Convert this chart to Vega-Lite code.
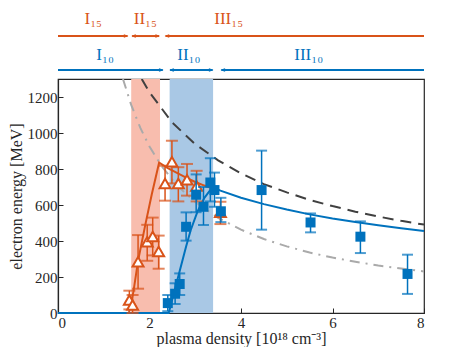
{
  "$schema": "https://vega.github.io/schema/vega-lite/v6.json",
  "padding": {"left": 7, "top": 0, "right": 0, "bottom": 0},
  "config": {
    "font": "Liberation Serif",
    "view": {"stroke": null},
    "axis": {"labelFont": "Liberation Serif", "titleFont": "Liberation Serif", "labelColor": "#262626", "titleColor": "#262626", "domainColor": "#262626", "tickColor": "#262626", "grid": false, "labelFontSize": 15, "titleFontSize": 16, "titleFontWeight": "normal", "labelOverlap": false}
  },
  "datasets": {
    "arrows": [
      {"grp": "15", "x": 0, "x2": 1.52, "lv": 0.538},
      {"grp": "15", "x": 1.62, "x2": 2.21, "lv": 0.538},
      {"grp": "15", "x": 2.35, "x2": 8, "lv": 0.538},
      {"grp": "10", "x": 0, "x2": 2.29, "lv": 0.103},
      {"grp": "10", "x": 2.45, "x2": 3.38, "lv": 0.103},
      {"grp": "10", "x": 3.57, "x2": 8, "lv": 0.103}
    ],
    "headsR": [
      {"grp": "15", "x": 1.54, "lv": 0.538},
      {"grp": "15", "x": 2.23, "lv": 0.538},
      {"grp": "10", "x": 2.31, "lv": 0.103},
      {"grp": "10", "x": 3.40, "lv": 0.103}
    ],
    "headsL": [
      {"grp": "15", "x": 1.60, "lv": 0.538},
      {"grp": "15", "x": 2.33, "lv": 0.538},
      {"grp": "10", "x": 2.43, "lv": 0.103},
      {"grp": "10", "x": 3.55, "lv": 0.103}
    ],
    "labels": [
      {"grp": "15", "x": 0.77, "lv": 0.76, "t": "I₁₅"},
      {"grp": "15", "x": 1.91, "lv": 0.76, "t": "II₁₅"},
      {"grp": "15", "x": 3.73, "lv": 0.76, "t": "III₁₅"},
      {"grp": "10", "x": 1.03, "lv": 0.3, "t": "I₁₀"},
      {"grp": "10", "x": 2.86, "lv": 0.3, "t": "II₁₀"},
      {"grp": "10", "x": 5.48, "lv": 0.3, "t": "III₁₀"}
    ],
    "bands": [
      {"grp": "15", "x": 1.6, "x2": 2.23},
      {"grp": "10", "x": 2.44, "x2": 3.39}
    ],
    "dashed": [
      {"x": 1.83, "y": 1300}, {"x": 2.0, "y": 1226}, {"x": 2.5, "y": 1057}, {"x": 3.0, "y": 938},
      {"x": 3.5, "y": 848}, {"x": 4.0, "y": 776}, {"x": 4.5, "y": 716}, {"x": 5.0, "y": 670},
      {"x": 5.5, "y": 628}, {"x": 6.0, "y": 594}, {"x": 6.5, "y": 563}, {"x": 7.0, "y": 536},
      {"x": 7.5, "y": 512}, {"x": 8.0, "y": 491}
    ],
    "dashdot": [
      {"x": 1.42, "y": 1300}, {"x": 1.6, "y": 1156}, {"x": 1.8, "y": 1028}, {"x": 2.0, "y": 925},
      {"x": 2.25, "y": 822}, {"x": 2.5, "y": 740}, {"x": 2.75, "y": 673}, {"x": 3.0, "y": 617},
      {"x": 3.5, "y": 529}, {"x": 4.0, "y": 463}, {"x": 4.5, "y": 411}, {"x": 5.0, "y": 370},
      {"x": 5.5, "y": 336}, {"x": 6.0, "y": 308}, {"x": 6.5, "y": 285}, {"x": 7.0, "y": 264},
      {"x": 7.5, "y": 247}, {"x": 8.0, "y": 231}
    ],
    "curves": [
      {"s": "15", "x": 0, "y": 0}, {"s": "15", "x": 1.55, "y": 0}, {"s": "15", "x": 1.65, "y": 120},
      {"s": "15", "x": 1.75, "y": 290}, {"s": "15", "x": 1.9, "y": 480}, {"s": "15", "x": 2.05, "y": 660},
      {"s": "15", "x": 2.21, "y": 835}, {"s": "15", "x": 2.4, "y": 805}, {"s": "15", "x": 2.6, "y": 778},
      {"s": "15", "x": 2.8, "y": 752}, {"s": "15", "x": 3.0, "y": 728}, {"s": "15", "x": 3.2, "y": 708},
      {"s": "15", "x": 3.4, "y": 690},
      {"s": "10", "x": 0, "y": 0}, {"s": "10", "x": 2.42, "y": 0}, {"s": "10", "x": 2.6, "y": 175},
      {"s": "10", "x": 2.8, "y": 370}, {"s": "10", "x": 2.9, "y": 460}, {"s": "10", "x": 3.05, "y": 565},
      {"s": "10", "x": 3.2, "y": 640}, {"s": "10", "x": 3.38, "y": 700}, {"s": "10", "x": 3.55, "y": 680},
      {"s": "10", "x": 4.0, "y": 640}, {"s": "10", "x": 4.5, "y": 605}, {"s": "10", "x": 5.0, "y": 575},
      {"s": "10", "x": 5.5, "y": 548}, {"s": "10", "x": 6.0, "y": 525}, {"s": "10", "x": 6.5, "y": 506},
      {"s": "10", "x": 7.0, "y": 488}, {"s": "10", "x": 7.5, "y": 471}, {"s": "10", "x": 8.0, "y": 455}
    ],
    "orange": [
      {"x": 1.56, "y": 72, "lo": 20, "hi": 124},
      {"x": 1.63, "y": 44, "lo": 0, "hi": 100},
      {"x": 1.75, "y": 285, "lo": 135, "hi": 433},
      {"x": 1.95, "y": 396, "lo": 290, "hi": 490},
      {"x": 2.07, "y": 425, "lo": 320, "hi": 530},
      {"x": 2.2, "y": 342, "lo": 246, "hi": 430},
      {"x": 2.34, "y": 720, "lo": 624, "hi": 818},
      {"x": 2.49, "y": 840, "lo": 720, "hi": 957},
      {"x": 2.63, "y": 720, "lo": 620, "hi": 810},
      {"x": 2.82, "y": 740, "lo": 652, "hi": 828},
      {"x": 3.03, "y": 705, "lo": 620, "hi": 790},
      {"x": 3.55, "y": 560, "lo": 494, "hi": 618}
    ],
    "blue": [
      {"x": 2.4, "y": 55, "lo": 10, "hi": 100},
      {"x": 2.56, "y": 107, "lo": 50, "hi": 165},
      {"x": 2.66, "y": 161, "lo": 100, "hi": 220},
      {"x": 2.8, "y": 479, "lo": 402, "hi": 559},
      {"x": 3.02, "y": 657, "lo": 560, "hi": 770},
      {"x": 3.18, "y": 590, "lo": 489, "hi": 700},
      {"x": 3.33, "y": 725, "lo": 620, "hi": 860},
      {"x": 3.42, "y": 683, "lo": 590, "hi": 780},
      {"x": 3.56, "y": 565, "lo": 505, "hi": 640},
      {"x": 4.45, "y": 683, "lo": 463, "hi": 902},
      {"x": 5.52, "y": 503, "lo": 448, "hi": 553},
      {"x": 6.61, "y": 424, "lo": 333, "hi": 509},
      {"x": 7.64, "y": 217, "lo": 106, "hi": 324}
    ]
  },
  "spacing": 0,
  "vconcat": [
    {
      "width": 366,
      "height": 78,
      "layer": [
        {
          "data": {"name": "arrows"},
          "mark": {"type": "rule", "strokeWidth": 2},
          "encoding": {
            "x": {"field": "x", "type": "quantitative", "scale": {"domain": [0, 8]}, "axis": null},
            "x2": {"field": "x2"},
            "y": {"field": "lv", "type": "quantitative", "scale": {"domain": [0, 1]}, "axis": null},
            "color": {"field": "grp", "type": "nominal", "scale": {"domain": ["15", "10"], "range": ["#D95319", "#0072BD"]}, "legend": null}
          }
        },
        {
          "data": {"name": "headsR"},
          "mark": {"type": "point", "shape": "M0,0 L-2,-0.8 L-1.4,0 L-2,0.8 Z", "filled": true, "size": 25, "opacity": 1},
          "encoding": {
            "x": {"field": "x", "type": "quantitative", "scale": {"domain": [0, 8]}, "axis": null},
            "y": {"field": "lv", "type": "quantitative", "scale": {"domain": [0, 1]}, "axis": null},
            "color": {"field": "grp", "type": "nominal", "scale": {"domain": ["15", "10"], "range": ["#D95319", "#0072BD"]}, "legend": null}
          }
        },
        {
          "data": {"name": "headsL"},
          "mark": {"type": "point", "shape": "M0,0 L2,-0.8 L1.4,0 L2,0.8 Z", "filled": true, "size": 25, "opacity": 1},
          "encoding": {
            "x": {"field": "x", "type": "quantitative", "scale": {"domain": [0, 8]}, "axis": null},
            "y": {"field": "lv", "type": "quantitative", "scale": {"domain": [0, 1]}, "axis": null},
            "color": {"field": "grp", "type": "nominal", "scale": {"domain": ["15", "10"], "range": ["#D95319", "#0072BD"]}, "legend": null}
          }
        },
        {
          "data": {"name": "labels"},
          "mark": {"type": "text", "fontSize": 17, "font": "Liberation Serif", "align": "center", "baseline": "middle"},
          "encoding": {
            "x": {"field": "x", "type": "quantitative", "scale": {"domain": [0, 8]}, "axis": null},
            "y": {"field": "lv", "type": "quantitative", "scale": {"domain": [0, 1]}, "axis": null},
            "text": {"field": "t"},
            "color": {"field": "grp", "type": "nominal", "scale": {"domain": ["15", "10"], "range": ["#D95319", "#0072BD"]}, "legend": null}
          }
        }
      ]
    },
    {
      "width": 366,
      "height": 234,
      "view": {"stroke": "#262626", "strokeWidth": 1.2},
      "layer": [
        {
          "data": {"name": "bands"},
          "transform": [{"filter": "datum.grp == '15'"}],
          "mark": {"type": "rect", "color": "#F8BDAE", "opacity": 1},
          "encoding": {
            "x": {"field": "x", "type": "quantitative", "scale": {"domain": [0, 8]}, "axis": {"values": [0, 2, 4, 6, 8], "title": "plasma density [10¹⁸ cm⁻³]", "tickSize": -5, "labelPadding": 7, "titlePadding": 0, "domainWidth": 1.2, "labelOverlap": false}},
            "x2": {"field": "x2"}
          }
        },
        {
          "data": {"name": "bands"},
          "transform": [{"filter": "datum.grp == '10'"}],
          "mark": {"type": "rect", "color": "#A9C8E5", "opacity": 1},
          "encoding": {
            "x": {"field": "x", "type": "quantitative"},
            "x2": {"field": "x2"}
          }
        },
        {
          "data": {"name": "dashed"},
          "mark": {"type": "line", "color": "#404040", "strokeWidth": 2, "strokeDash": [11, 7], "clip": true},
          "encoding": {
            "x": {"field": "x", "type": "quantitative"},
            "y": {"field": "y", "type": "quantitative", "scale": {"domain": [0, 1300]}, "axis": {"values": [0, 200, 400, 600, 800, 1000, 1200], "tickCount": 7, "format": "d", "title": "electron energy [MeV]", "tickSize": -5, "labelPadding": 6, "titlePadding": 3, "domainWidth": 1.2, "labelOverlap": false}}
          }
        },
        {
          "data": {"name": "dashdot"},
          "mark": {"type": "line", "color": "#AAAAAA", "strokeWidth": 2, "strokeDash": [10, 6, 2, 6], "clip": true},
          "encoding": {
            "x": {"field": "x", "type": "quantitative"},
            "y": {"field": "y", "type": "quantitative"}
          }
        },
        {
          "data": {"name": "curves"},
          "mark": {"type": "line", "strokeWidth": 2},
          "encoding": {
            "x": {"field": "x", "type": "quantitative"},
            "y": {"field": "y", "type": "quantitative"},
            "detail": {"field": "s"},
            "color": {"field": "s", "type": "nominal", "scale": {"domain": ["15", "10"], "range": ["#D95319", "#0072BD"]}, "legend": null}
          }
        },
        {"data": {"name": "orange"}, "mark": {"type": "rule", "color": "#D95319", "strokeWidth": 1.5}, "encoding": {"x": {"field": "x", "type": "quantitative"}, "y": {"field": "lo", "type": "quantitative"}, "y2": {"field": "hi"}}},
        {"data": {"name": "orange"}, "mark": {"type": "tick", "orient": "horizontal", "color": "#D95319", "size": 12, "thickness": 2}, "encoding": {"x": {"field": "x", "type": "quantitative"}, "y": {"field": "lo", "type": "quantitative"}}},
        {"data": {"name": "orange"}, "mark": {"type": "tick", "orient": "horizontal", "color": "#D95319", "size": 12, "thickness": 2}, "encoding": {"x": {"field": "x", "type": "quantitative"}, "y": {"field": "hi", "type": "quantitative"}}},
        {"data": {"name": "orange"}, "mark": {"type": "point", "shape": "triangle-up", "size": 120, "filled": true, "fill": "white", "stroke": "#D95319", "strokeWidth": 2, "opacity": 1}, "encoding": {"x": {"field": "x", "type": "quantitative"}, "y": {"field": "y", "type": "quantitative"}}},
        {"data": {"name": "blue"}, "mark": {"type": "rule", "color": "#0072BD", "strokeWidth": 1.5}, "encoding": {"x": {"field": "x", "type": "quantitative"}, "y": {"field": "lo", "type": "quantitative"}, "y2": {"field": "hi"}}},
        {"data": {"name": "blue"}, "mark": {"type": "tick", "orient": "horizontal", "color": "#0072BD", "size": 11, "thickness": 2}, "encoding": {"x": {"field": "x", "type": "quantitative"}, "y": {"field": "lo", "type": "quantitative"}}},
        {"data": {"name": "blue"}, "mark": {"type": "tick", "orient": "horizontal", "color": "#0072BD", "size": 11, "thickness": 2}, "encoding": {"x": {"field": "x", "type": "quantitative"}, "y": {"field": "hi", "type": "quantitative"}}},
        {"data": {"name": "blue"}, "mark": {"type": "point", "shape": "square", "size": 100, "filled": true, "color": "#0072BD", "opacity": 1}, "encoding": {"x": {"field": "x", "type": "quantitative"}, "y": {"field": "y", "type": "quantitative"}}}
      ]
    }
  ]
}
